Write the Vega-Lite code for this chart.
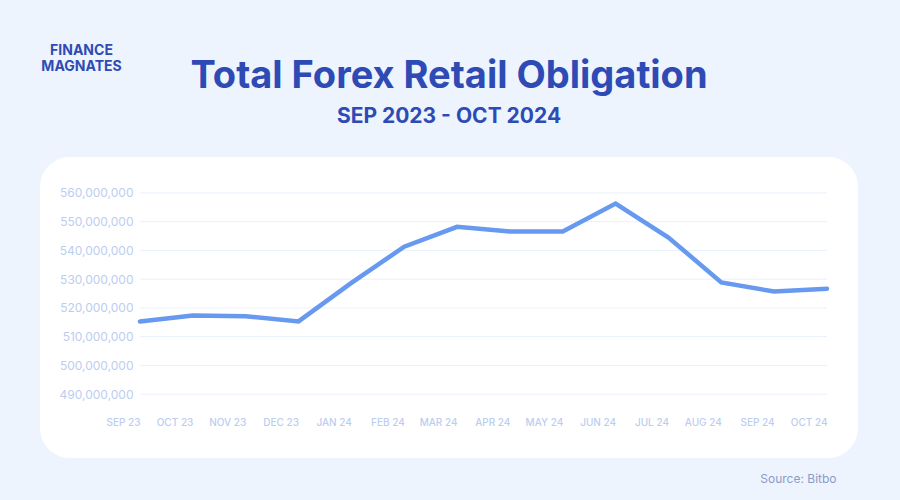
{
  "$schema": "https://vega.github.io/schema/vega-lite/v6.json",
  "autosize": "none",
  "width": 818,
  "height": 301,
  "padding": {"left": 40, "top": 157, "right": 42, "bottom": 42},
  "background": "#edf4fe",
  "config": {
    "view": {"fill": "white", "stroke": null, "cornerRadius": 30},
    "font": "Inter"
  },
  "title": {
    "text": "Total Forex Retail Obligation",
    "subtitle": "SEP 2023 - OCT 2024",
    "anchor": "middle",
    "frame": "group",
    "fontSize": 38,
    "fontWeight": 700,
    "color": "#2e4bb5",
    "subtitleFontSize": 21,
    "subtitleFontWeight": 700,
    "subtitleColor": "#2e4bb5",
    "offset": -84,
    "subtitlePadding": 10
  },
  "layer": [
    {
      "data": {"values": [
        {"tick": 490000000}, {"tick": 500000000}, {"tick": 510000000}, {"tick": 520000000},
        {"tick": 530000000}, {"tick": 540000000}, {"tick": 550000000}, {"tick": 560000000}
      ]},
      "mark": {"type": "rule", "color": "#e9f1fc", "strokeWidth": 1},
      "encoding": {
        "y": {"field": "tick", "type": "quantitative", "scale": {"domain": [467800000, 572500000], "nice": false, "zero": false}},
        "x": {"datum": "SEP 23", "type": "nominal", "scale": {"type": "point", "padding": 0, "domain": ["SEP 23","OCT 23","NOV 23","DEC 23","JAN 24","FEB 24","MAR 24","APR 24","MAY 24","JUN 24","JUL 24","AUG 24","SEP 24","OCT 24"], "range": [100, 787]}},
        "x2": {"datum": "OCT 24"}
      }
    },
    {
      "data": {"values": [
        {"month": "SEP 23", "obligation": 515300000},
        {"month": "OCT 23", "obligation": 517400000},
        {"month": "NOV 23", "obligation": 517100000},
        {"month": "DEC 23", "obligation": 515300000},
        {"month": "JAN 24", "obligation": 528700000},
        {"month": "FEB 24", "obligation": 541300000},
        {"month": "MAR 24", "obligation": 548200000},
        {"month": "APR 24", "obligation": 546600000},
        {"month": "MAY 24", "obligation": 546600000},
        {"month": "JUN 24", "obligation": 556300000},
        {"month": "JUL 24", "obligation": 544500000},
        {"month": "AUG 24", "obligation": 528900000},
        {"month": "SEP 24", "obligation": 525700000},
        {"month": "OCT 24", "obligation": 526700000}
      ]},
      "mark": {"type": "line", "color": "#6699ef", "strokeWidth": 4.5, "strokeCap": "round"},
      "encoding": {
        "x": {
          "field": "month", "type": "nominal", "sort": null,
          "scale": {"type": "point", "padding": 0, "domain": ["SEP 23","OCT 23","NOV 23","DEC 23","JAN 24","FEB 24","MAR 24","APR 24","MAY 24","JUN 24","JUL 24","AUG 24","SEP 24","OCT 24"], "range": [100, 787]},
          "axis": {
            "orient": "bottom", "offset": -42, "labelAngle": 0, "labelFontSize": 10, "labelColor": "#bccdf0",
            "labelFontWeight": 500, "labelPadding": 6, "domain": false, "ticks": false, "grid": false, "labelOverlap": false,
            "title": "Source: Bitbo", "titleX": 796, "titleY": 62, "titleAlign": "right", "titleBaseline": "middle",
            "titleFontSize": 12, "titleFontWeight": 400, "titleColor": "#8b9bc7"
          }
        },
        "y": {
          "field": "obligation", "type": "quantitative",
          "scale": {"domain": [467800000, 572500000], "nice": false, "zero": false},
          "axis": {
            "orient": "left", "offset": -100,
            "values": [490000000, 500000000, 510000000, 520000000, 530000000, 540000000, 550000000, 560000000],
            "format": ",d", "labelFontSize": 12, "labelColor": "#bccdf0", "labelPadding": 7,
            "domain": false, "ticks": false, "grid": false,
            "title": ["FINANCE", "MAGNATES"], "titleAngle": 0, "titleX": -59, "titleY": -114,
            "titleAlign": "center", "titleBaseline": "top", "titleFontSize": 14, "titleFontWeight": 700,
            "titleColor": "#2e4bb5", "titleLineHeight": 16
          }
        }
      }
    }
  ]
}
